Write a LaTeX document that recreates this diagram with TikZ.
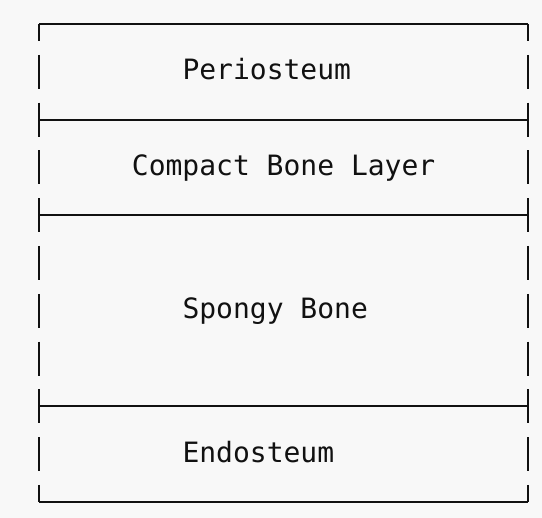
\documentclass[tikz,border=0pt]{standalone}
\usepackage{fontspec}
\setmonofont{DejaVu Sans Mono}
\definecolor{paper}{HTML}{F8F8F8}
\definecolor{ink}{HTML}{111111}
\begin{document}
\begin{tikzpicture}[x=1pt,y=-1pt,
    border/.style={ink,line width=2pt},
    side/.style={border,dash pattern=on 34pt off 13.8pt,dash phase=17pt},
    layer/.style={anchor=base west,inner sep=0pt,text=ink,font=\ttfamily\fontsize{28}{28}\selectfont}]
    \fill[paper] (0,0) rectangle (542,518);
    \useasboundingbox (0,0) rectangle (542,518);
    % sides
    \draw[side] (39,24)--(39,502);
    \draw[side] (528,24)--(528,502);
    % top, dividers, bottom
    \draw[border] (39,24)--(528,24);
    \draw[border] (39,119.6)--(528,119.6);
    \draw[border] (39,215.2)--(528,215.2);
    \draw[border] (39,406.4)--(528,406.4);
    \draw[border] (39,502)--(528,502);
    % layer names
    \node[layer] (peri) at (182.3,80) {Periosteum};
    \node[layer] (compact) at (131.7,176) {Compact Bone Layer};
    \node[layer] (spongy) at (182.3,319) {Spongy Bone};
    \node[layer] (endo) at (182.3,463) {Endosteum};
\end{tikzpicture}
\end{document}
